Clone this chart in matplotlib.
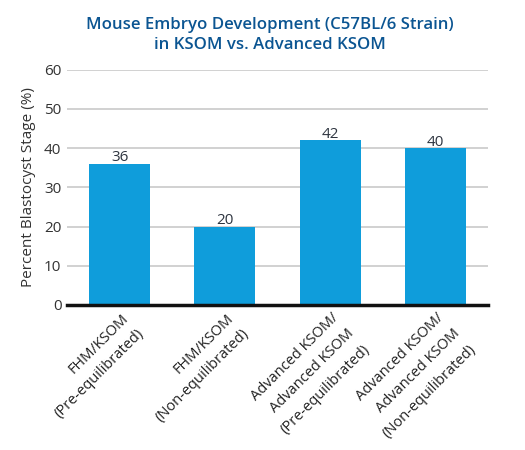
import matplotlib
matplotlib.use("Agg")
import matplotlib.pyplot as plt
from matplotlib.transforms import ScaledTranslation

categories = [
    "FHM/KSOM\n(Pre-equilibrated)",
    "FHM/KSOM\n(Non-equilibrated)",
    "Advanced KSOM/\nAdvanced KSOM\n(Pre-equilibrated)",
    "Advanced KSOM/\nAdvanced KSOM\n(Non-equilibrated)",
]
values = [36, 20, 42, 40]
yticks = [0, 10, 20, 30, 40, 50, 60]

plt.rcParams['font.family'] = ['Open Sans', 'DejaVu Sans']

fig = plt.figure(figsize=(5.25, 4.5), dpi=100)
ax = fig.add_axes([67/525, 1 - 305/450, (488-67)/525, (305-69.6)/450])

bar_color = "#0f9ddb"
text_color = "#2e3540"
x = list(range(len(categories)))
bars = ax.bar(x, values, width=0.58, color=bar_color, zorder=3)
for xi, v in zip(x, values):
    ax.text(xi, v + 0.6, str(v), ha='center', va='baseline', fontsize=11, color=text_color, zorder=4)

ax.set_xlim(-0.5, 3.5)
ax.set_ylim(0, 60)
ax.set_yticks(yticks)
ax.set_yticklabels([str(t) for t in yticks], fontsize=11, color="#333333")
ax.yaxis.grid(True, color="#c9c9c9", linewidth=1.2, zorder=0)
ax.tick_params(axis='y', length=0, pad=4)
ax.tick_params(axis='x', length=0, pad=4)
for s in ['top', 'right', 'left']:
    ax.spines[s].set_visible(False)
ax.spines['bottom'].set_color('#111111')
ax.spines['bottom'].set_linewidth(2.5)
ax.spines['bottom'].set_zorder(5)

ax.set_xticks(x)
ax.set_xticklabels(categories, rotation=45, ha='right', rotation_mode='anchor',
                   fontsize=10.5, color="#222222", multialignment='right', linespacing=1.65)
offset = ScaledTranslation(1/100, 0/100, fig.dpi_scale_trans)
for lbl in ax.get_xticklabels():
    lbl.set_transform(lbl.get_transform() + offset)

ax.set_ylabel("Percent Blastocyst Stage (%)", fontsize=11, color="#333333", labelpad=6)

fig.text(270/525, 1 - 35/450, "Mouse Embryo Development (C57BL/6 Strain)\nin KSOM vs. Advanced KSOM",
         ha='center', va='center', fontsize=12.1, color="#0b5592", fontweight='semibold', linespacing=1.3)

fig.savefig("out.png", dpi=100)
